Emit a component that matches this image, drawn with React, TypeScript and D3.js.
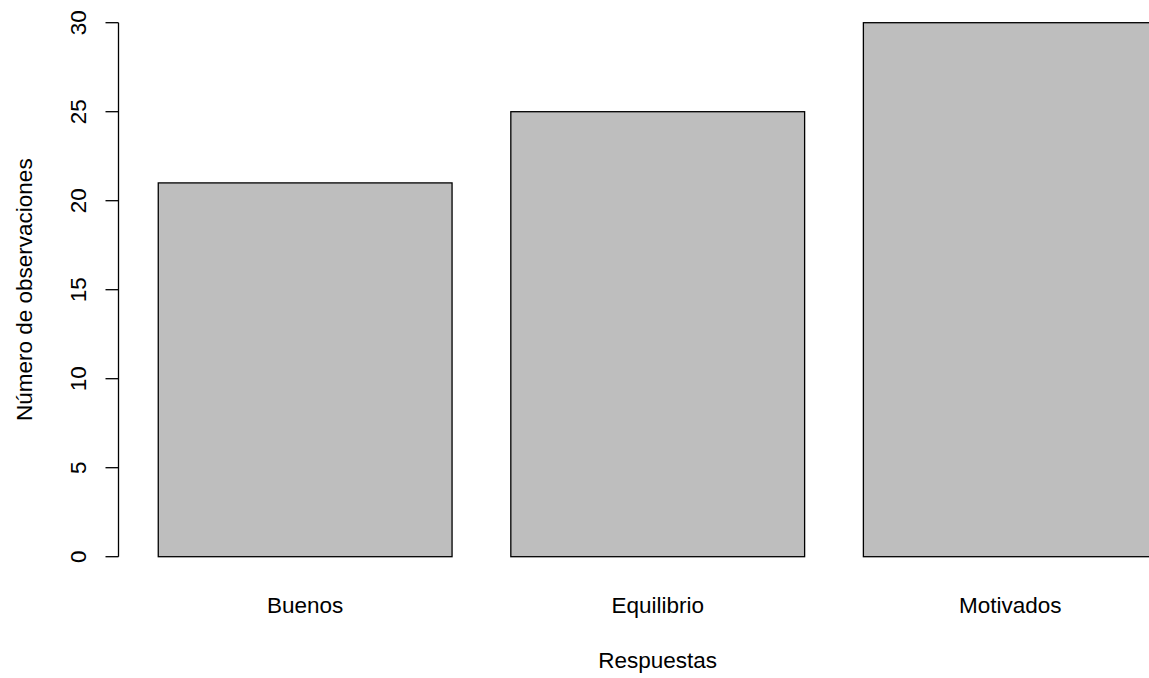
import React from "react";
import * as d3 from "d3";

const categories = ["Buenos", "Equilibrio", "Motivados"];
const counts = [21, 25, 30];
const yTicks = [0, 5, 10, 15, 20, 25, 30];
const xTitle = "Respuestas";
const yTitle = "Número de observaciones";

const W = 1149;
const H = 678;
const FONT = "'Liberation Sans', Arial, sans-serif";
const FS = 22.5;

export default function App() {
  // R barplot geometry: width 1, space 0.2 (in bar units)
  const space = 0.2;
  const barW = 1;
  const unitPx = 293.8;
  const origin = 99.5;
  const x = d3.scaleLinear().domain([0, 3.6]).range([origin, origin + 3.6 * unitPx]);
  const y = d3.scaleLinear().domain([0, 30]).range([556.7, 22.7]);

  const bars = categories.map((c, i) => {
    const l = space + i * (barW + space);
    return { c, v: counts[i], x0: x(l), x1: x(l + barW), mid: x(l + barW / 2) };
  });
  const axisX = 118.5;
  const center = x((0.2 + 3.6) / 2);

  return (
    <svg
      width={W}
      height={H}
      style={{ position: "absolute", left: 0, top: 0, background: "#fff" }}
      fontFamily={FONT}
    >
      <rect x={0} y={0} width={W} height={H} fill="#fff" />
      {bars.map((b) => (
        <rect
          key={b.c}
          x={b.x0}
          y={y(b.v)}
          width={b.x1 - b.x0}
          height={y(0) - y(b.v)}
          fill="#BEBEBE"
          stroke="#000"
          strokeWidth={1.3}
        />
      ))}
      <line x1={axisX} x2={axisX} y1={y(0)} y2={y(30)} stroke="#000" strokeWidth={1.3} />
      {yTicks.map((t) => (
        <g key={t}>
          <line x1={axisX - 13} x2={axisX} y1={y(t)} y2={y(t)} stroke="#000" strokeWidth={1.3} />
          <text
            transform={`translate(86,${y(t)}) rotate(-90)`}
            textAnchor="middle"
            fontSize={FS}
            fill="#000"
          >
            {t}
          </text>
        </g>
      ))}
      {bars.map((b) => (
        <text key={b.c} x={b.mid} y={613} textAnchor="middle" fontSize={FS} fill="#000">
          {b.c}
        </text>
      ))}
      <text x={center} y={668} textAnchor="middle" fontSize={FS} fill="#000">
        {xTitle}
      </text>
      <text
        transform={`translate(32,${(y(0) + y(30)) / 2}) rotate(-90)`}
        textAnchor="middle"
        fontSize={FS}
        fill="#000"
      >
        {yTitle}
      </text>
    </svg>
  );
}
